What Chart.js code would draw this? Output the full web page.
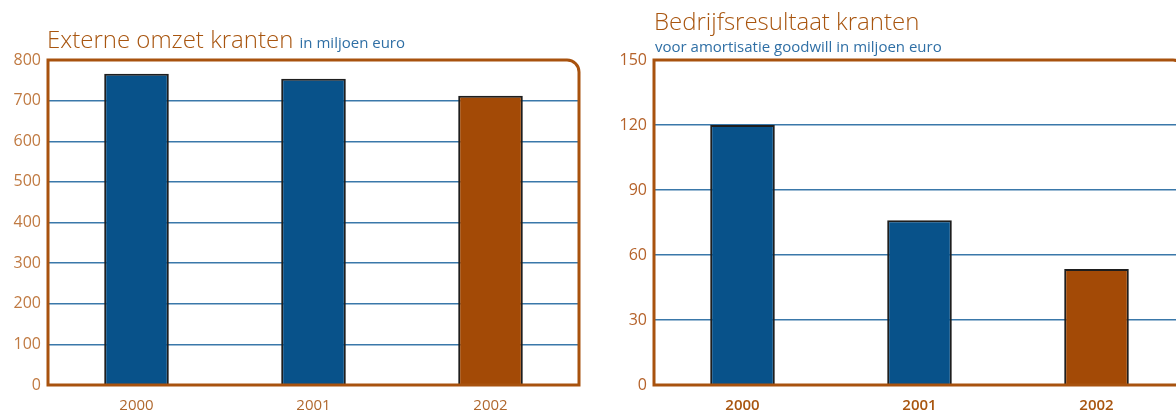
<!DOCTYPE html>
<html>
<head>
<meta charset="utf-8">
<script src="https://cdn.jsdelivr.net/npm/chart.js@4"></script>
<style>
    html, body { margin: 0; padding: 0; background: #fff; overflow: hidden; width: 1176px; height: 412px; }
    .wrap { position: absolute; top: 0; height: 412px; }
    .title { position: absolute; font-family: "Open Sans", sans-serif; font-weight: 300; color: #A8550F; white-space: nowrap; }
    .sub { font-family: "Open Sans", sans-serif; color: #2F6FA5; font-weight: 400; }
</style>
</head>
<body>
<div class="wrap" style="left:0;width:600px;">
    <canvas id="omzet" width="600" height="412"></canvas>
</div>
<div class="wrap" style="left:600px;width:600px;">
    <canvas id="resultaat" width="600" height="412"></canvas>
</div>
<div class="title" style="left:47px;top:22px;font-size:24px;">Externe omzet kranten <span class="sub" style="font-size:15px;">in miljoen euro</span></div>
<div class="title" style="left:654px;top:4px;font-size:24px;">Bedrijfsresultaat kranten</div>
<div class="title sub" style="left:655px;top:36px;font-size:15px;">voor amortisatie goodwill in miljoen euro</div>

<script>
// Data
const years = ['2000', '2001', '2002'];
const omzetValues = [766, 754, 712];
const resultaatValues = [120, 76, 53.5];
const omzetTicks = [0, 100, 200, 300, 400, 500, 600, 700, 800];
const resultaatTicks = [0, 30, 60, 90, 120, 150];

const BLUE = '#08528A';
const ORANGE = '#A34A06';
const FRAME = '#A8520E';
const barColors = [BLUE, BLUE, ORANGE];

// Frame round the plot area, rounded top-right corner
const framePlugin = {
    id: 'frame',
    afterDatasetsDraw(chart) {
        const { ctx, chartArea: a } = chart;
        const r = 12;
        ctx.save();
        ctx.strokeStyle = FRAME;
        ctx.lineWidth = 3;
        ctx.beginPath();
        ctx.moveTo(a.left, a.bottom);
        ctx.lineTo(a.left, a.top);
        ctx.lineTo(a.right - r, a.top);
        ctx.arcTo(a.right, a.top, a.right, a.top + r, r);
        ctx.lineTo(a.right, a.bottom);
        ctx.closePath();
        ctx.stroke();
        ctx.restore();
    }
};

function makeChart(id, values, ticks, opts) {
    const ctx = document.getElementById(id).getContext('2d');
    const top = ticks[ticks.length - 1];
    return new Chart(ctx, {
        type: 'bar',
        data: {
            labels: years,
            datasets: [{
                data: values,
                backgroundColor: barColors,
                borderColor: '#1E1E1E',
                borderWidth: 2,
                categoryPercentage: 1,
                barPercentage: 0.365
            }]
        },
        options: {
            responsive: false,
            animation: false,
            layout: { padding: { top: 60, right: opts.right, left: 0, bottom: 0 } },
            plugins: { legend: { display: false }, tooltip: { enabled: false } },
            scales: {
                x: {
                    grid: { display: false },
                    border: { display: false },
                    ticks: { color: opts.xColor, font: { family: 'Open Sans', size: 15, weight: opts.xWeight }, padding: 4 },
                    afterFit(s) { s.height = 27; }
                },
                y: {
                    min: 0,
                    max: top,
                    afterBuildTicks(s) { s.ticks = ticks.map(v => ({ value: v })); },
                    grid: {
                        color: c => (c.tick && (c.tick.value === top || c.tick.value === 0)) ? 'rgba(0,0,0,0)' : '#3A78AA',
                        lineWidth: 1.5,
                        drawTicks: false
                    },
                    border: { display: false },
                    ticks: { color: opts.yColor, font: { family: 'Open Sans', size: 16, weight: 400 }, padding: 7 },
                    afterFit(s) { s.width = opts.left; }
                }
            }
        },
        plugins: [framePlugin]
    });
}

makeChart('omzet', omzetValues, omzetTicks, { left: 48, right: 21, xColor: '#B0682E', yColor: '#C07A42', xWeight: 400 });
makeChart('resultaat', resultaatValues, resultaatTicks, { left: 54, right: 15, xColor: '#A8550F', yColor: '#B5622A', xWeight: 600 });
</script>
</body>
</html>
